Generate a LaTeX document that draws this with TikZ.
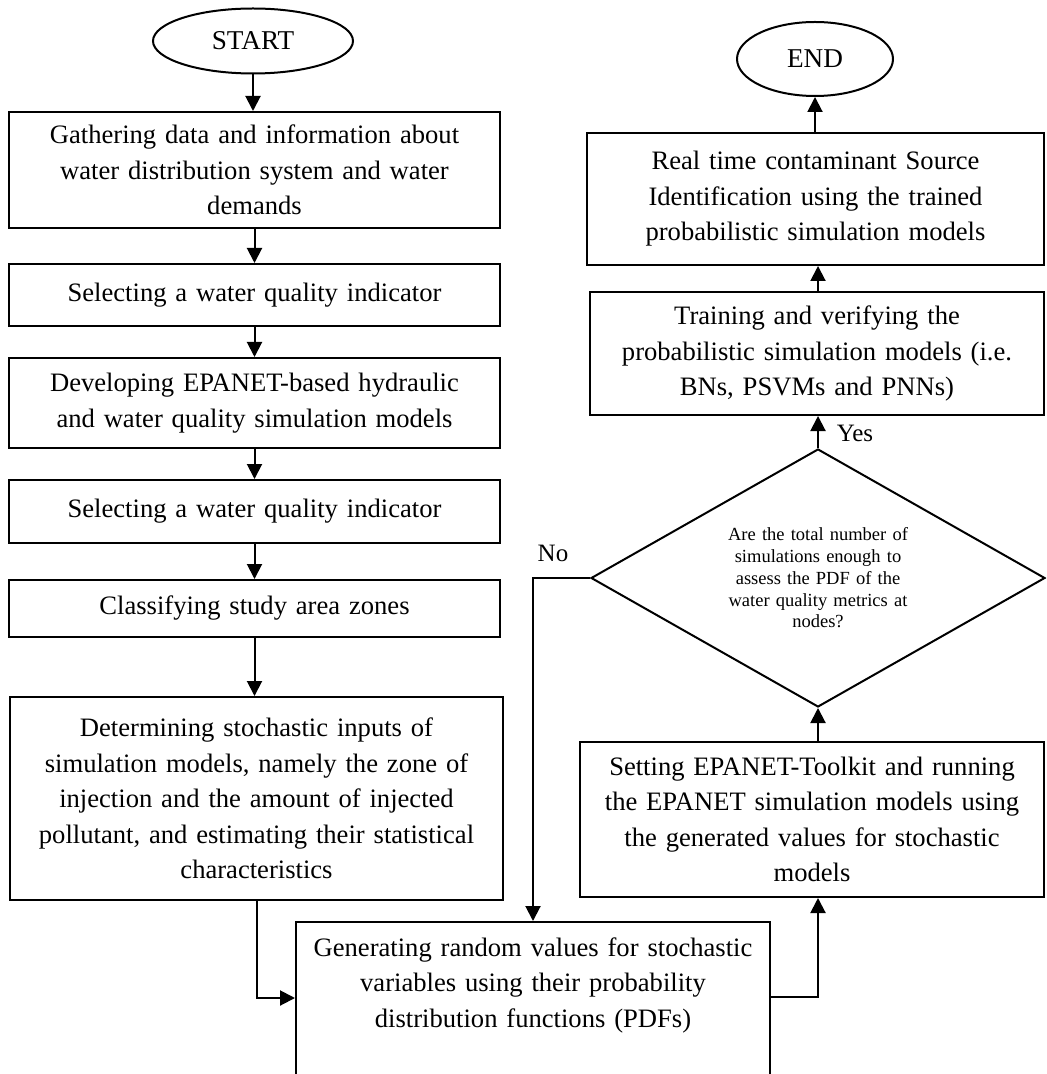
\documentclass[tikz,border=0pt]{standalone}
\usepackage{fontspec}
\setmainfont{Liberation Serif}
\usetikzlibrary{shapes.geometric,arrows.meta,calc}
\begin{document}
\begin{tikzpicture}[x=0.5pt,y=-0.5pt,
  line width=1pt,
  boxnode/.style={draw, rectangle, align=center, inner xsep=2pt, inner ysep=0pt, font=\fontsize{13.3}{17.75}\selectfont},
  term/.style={draw, ellipse, inner sep=0pt, font=\fontsize{13.6}{16}\selectfont},
  decide/.style={draw, diamond, aspect=1.76, inner sep=0pt, align=center, font=\fontsize{9.25}{10.9}\selectfont},
  arr/.style={-{Triangle[length=7.5pt,width=7.5pt]}},
  lbl/.style={inner sep=0pt, font=\fontsize{12.5}{15}\selectfont}]
\useasboundingbox (0,0) rectangle (1046,1074);
\clip (0,0) rectangle (1046,1074);

% left column
\node[term, minimum width=100pt, minimum height=32.5pt] (start) at (253,41) {START};
\node[boxnode, text width=241.5pt, minimum height=58pt] (b1) at (254.5,170) {Gathering data and information about\\ water distribution system and water\\ demands};
\node[boxnode, text width=241.5pt, minimum height=31pt] (b2) at (254.5,295) {Selecting a water quality indicator};
\node[boxnode, text width=241.5pt, minimum height=45pt] (b3) at (254.5,403) {Developing EPANET-based hydraulic\\ and water quality simulation models};
\node[boxnode, text width=241.5pt, minimum height=31.5pt] (b4) at (254.5,511.5) {Selecting a water quality indicator};
\node[boxnode, text width=241.5pt, minimum height=28.5pt] (b5) at (254.5,608.5) {Classifying study area zones};
\node[boxnode, text width=242.5pt, minimum height=101.5pt] (b6) at (256.5,798.5) {Determining stochastic inputs of\\ simulation models, namely the zone of\\ injection and the amount of injected\\ pollutant, and estimating their statistical\\ characteristics};
\node[boxnode, text width=233pt, minimum height=96pt] (b7) at (533,1018) {Generating random values for stochastic\\ variables using their probability\\ distribution functions (PDFs)\\ \mbox{}\\ \mbox{}};

% right column
\node[boxnode, text width=228pt, minimum height=77.5pt] (b8) at (812,819.5) {Setting EPANET-Toolkit and running\\ the EPANET simulation models using\\ the generated values for stochastic\\ models};
\node[decide, minimum width=227pt, minimum height=129pt, text width=95pt] (d) at (818,578) {Are the total number of\\ simulations enough to\\ assess the PDF of the\\ water quality metrics at\\ nodes?};
\node[boxnode, text width=223pt, minimum height=61.5pt] (b9) at (817,353.5) {Training and verifying the\\ probabilistic simulation models (i.e.\\ BNs, PSVMs and PNNs)};
\node[boxnode, text width=224.5pt, minimum height=66pt] (b10) at (815.5,199) {Real time contaminant Source\\ Identification using the trained\\ probabilistic simulation models};
\node[term, minimum width=78pt, minimum height=37pt] (end) at (815,59) {END};

\node[lbl] (yes) at (855,433) {Yes};
\node[lbl] (no) at (553,553) {No};

% connectors
\draw[arr] (start.south) -- (start.south |- b1.north);
\draw[arr] (b1.south) -- (b2.north);
\draw[arr] (b2.south) -- (b3.north);
\draw[arr] (b3.south) -- (b4.north);
\draw[arr] (b4.south) -- (b5.north);
\draw[arr] (b5.south) -- (b5.south |- b6.north);
\draw[arr] (b6.south) |- ($(b7.north west)+(0,77)$);
\draw[arr] ($(b7.north east)+(0,76)$) -| (d.south |- b8.south);
\draw[arr] (d.south |- b8.north) -- (d.south);
\draw[arr] (d.north) -- (d.north |- b9.south);
\draw[arr] (d.north |- b9.north) -- (d.north |- b10.south);
\draw[arr] (end.south |- b10.north) -- (end.south);
\draw[arr] (d.west) -| (b7.north);
\end{tikzpicture}
\end{document}
